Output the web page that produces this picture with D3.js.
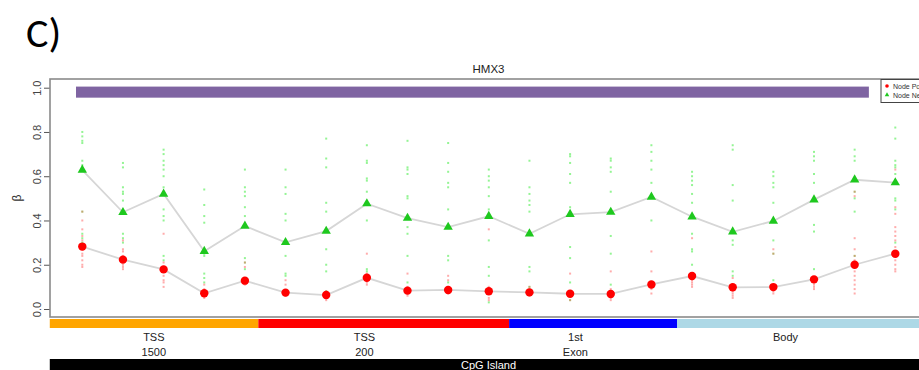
<!DOCTYPE html>
<html>
<head>
<meta charset="utf-8">
<script src="https://cdn.jsdelivr.net/npm/d3@7"></script>
<style>
  body { margin: 0; background: #fff; }
  svg { display: block; font-family: "Liberation Sans", Arial, Helvetica, sans-serif; }
</style>
</head>
<body>
<svg id="chart" width="919" height="370"></svg>
<script>
// ---- data ---------------------------------------------------------------
const panelLabel = "C)";
const gene = "HMX3";
const yLabel = "β";
const yTicks = [0, 0.2, 0.4, 0.6, 0.8, 1.0];
const legendLabels = ["Node Positive", "Node Negative"];

// probe index 1..21 along the gene
const probes = d3.range(1, 22);

// mean beta per probe
const positiveMean = [0.282, 0.223, 0.179, 0.071, 0.128, 0.074, 0.063, 0.141, 0.083, 0.086, 0.080,
                      0.075, 0.069, 0.068, 0.111, 0.149, 0.098, 0.099, 0.134, 0.200, 0.250];
const negativeMean = [0.628, 0.437, 0.520, 0.261, 0.375, 0.301, 0.352, 0.476, 0.411, 0.370, 0.419,
                      0.340, 0.428, 0.438, 0.506, 0.417, 0.349, 0.398, 0.494, 0.584, 0.571];

// individual sample betas per probe
const positiveSamples = [
  [0.44, 0.40, 0.36, 0.33, 0.31, 0.27, 0.25, 0.24, 0.22, 0.20, 0.19],
  [0.31, 0.27, 0.26, 0.24, 0.22, 0.20, 0.19, 0.18],
  [0.34, 0.21, 0.19, 0.17, 0.15, 0.13, 0.12, 0.10],
  [0.11, 0.09, 0.08, 0.06, 0.05],
  [0.21, 0.19, 0.14, 0.12, 0.11],
  [0.13, 0.11, 0.08, 0.06],
  [0.08, 0.07, 0.05, 0.04],
  [0.25, 0.16, 0.14, 0.12, 0.11],
  [0.16, 0.10, 0.09, 0.07, 0.06],
  [0.15, 0.13, 0.10, 0.09, 0.07],
  [0.36, 0.10, 0.08, 0.05, 0.04],
  [0.10, 0.09, 0.07, 0.06],
  [0.16, 0.08, 0.06, 0.04],
  [0.17, 0.09, 0.07, 0.05, 0.04],
  [0.26, 0.17, 0.10, 0.09, 0.07],
  [0.32, 0.16, 0.13, 0.12, 0.11, 0.10],
  [0.14, 0.08, 0.07, 0.06, 0.05],
  [0.27, 0.25, 0.09, 0.08, 0.07],
  [0.12, 0.11, 0.10, 0.09],
  [0.53, 0.51, 0.32, 0.27, 0.24, 0.22, 0.19, 0.17, 0.15, 0.13, 0.11, 0.09, 0.07],
  [0.63, 0.46, 0.43, 0.37, 0.35, 0.33, 0.31, 0.28, 0.26, 0.24, 0.22, 0.20, 0.18, 0.17]
];
const negativeSamples = [
  [0.80, 0.78, 0.76, 0.75, 0.67, 0.65, 0.44, 0.34, 0.32, 0.30],
  [0.66, 0.64, 0.55, 0.53, 0.52, 0.49, 0.34, 0.32, 0.30],
  [0.72, 0.70, 0.67, 0.65, 0.63, 0.60, 0.55, 0.45, 0.42, 0.40, 0.24, 0.22],
  [0.54, 0.47, 0.42, 0.39, 0.25, 0.24, 0.16, 0.14, 0.12],
  [0.63, 0.55, 0.53, 0.51, 0.46, 0.42, 0.23, 0.21, 0.18],
  [0.63, 0.55, 0.52, 0.43, 0.40, 0.24, 0.16, 0.15],
  [0.77, 0.68, 0.64, 0.48, 0.44, 0.27, 0.20, 0.17, 0.08],
  [0.74, 0.67, 0.66, 0.59, 0.58, 0.53, 0.40, 0.18, 0.17],
  [0.76, 0.64, 0.63, 0.61, 0.51, 0.50, 0.37, 0.34, 0.24, 0.12],
  [0.75, 0.66, 0.62, 0.57, 0.55, 0.45, 0.24, 0.22, 0.12],
  [0.63, 0.60, 0.58, 0.55, 0.51, 0.45, 0.31, 0.19, 0.15, 0.03],
  [0.67, 0.55, 0.52, 0.49, 0.47, 0.44, 0.19, 0.17, 0.10],
  [0.70, 0.69, 0.66, 0.61, 0.57, 0.46, 0.28, 0.23, 0.12, 0.04],
  [0.68, 0.67, 0.64, 0.62, 0.53, 0.33, 0.25, 0.11],
  [0.74, 0.71, 0.67, 0.63, 0.57, 0.40],
  [0.62, 0.60, 0.58, 0.56, 0.52, 0.48, 0.34, 0.27, 0.26, 0.20],
  [0.74, 0.72, 0.56, 0.49, 0.31, 0.29, 0.17, 0.15],
  [0.62, 0.60, 0.57, 0.55, 0.48, 0.31, 0.25, 0.13],
  [0.71, 0.69, 0.67, 0.61, 0.57, 0.38, 0.35, 0.18],
  [0.72, 0.69, 0.67, 0.53, 0.50, 0.44, 0.24],
  [0.82, 0.77, 0.67, 0.65, 0.64, 0.61, 0.50, 0.49, 0.45, 0.30]
];

// gene regions, in probe-index units
const regionNames  = [["TSS", "1500"], ["TSS", "200"], ["1st", "Exon"], ["Body"]];
const regionColors = ["#ffa500", "#ff0000", "#0000ff", "#add8e6"];
const regionStart  = [0.2, 5.33, 11.5, 15.63];
const regionEnd    = [5.33, 11.5, 15.63, 21.8];
const regionLabelAt = [2.76, 7.94, 13.13, 18.3];

// CpG island track and the differentially methylated block above the data
const islandLabel = "CpG Island";
const islandSpan = [0.2, 21.8];
const dmrSpan = [0.845, 20.35];
const dmrBeta = [0.955, 1.005];

// ---- layout -------------------------------------------------------------
const svg = d3.select("#chart");
const plot = { left: 50, right: 927, top: 79, bottom: 317 };

const x = d3.scaleLinear().domain([1, 21]).range([82.3, 895.3]);
const y = d3.scaleLinear().domain([0, 1]).range([309, 87.7]);

const posColor = "#ff0000";
const negColor = "#1ec81e";

// panel letter
svg.append("text")
  .attr("x", 26).attr("y", 47)
  .attr("font-family", "Carlito, 'Liberation Sans', sans-serif")
  .attr("font-size", 42).attr("fill", "#000")
  .text(panelLabel);

// title
svg.append("text")
  .attr("x", (plot.left + plot.right) / 2).attr("y", 73)
  .attr("text-anchor", "middle").attr("font-size", 11.5).attr("fill", "#222")
  .text(gene);

// DMR block
svg.append("rect")
  .attr("x", x(dmrSpan[0])).attr("width", x(dmrSpan[1]) - x(dmrSpan[0]))
  .attr("y", y(dmrBeta[1])).attr("height", y(dmrBeta[0]) - y(dmrBeta[1]))
  .attr("fill", "#7f64a2");

// y axis
const yAxis = d3.axisLeft(y).tickValues(yTicks).tickFormat(d3.format(".1f")).tickSize(6);
const ya = svg.append("g").attr("transform", `translate(${plot.left},0)`).call(yAxis);
ya.select(".domain").remove();
ya.selectAll(".tick line").attr("stroke", "#555");
ya.selectAll(".tick text")
  .attr("font-size", 11).attr("fill", "#444")
  .attr("transform", "rotate(-90)")
  .attr("x", 0).attr("dy", 0)
  .attr("y", -10)
  .attr("text-anchor", "middle")
  .attr("font-family", "'Liberation Sans', Arial, sans-serif");
// place rotated labels at tick position
ya.selectAll(".tick text").each(function() {
  d3.select(this).attr("transform", "rotate(-90)").attr("x", 0).attr("y", -9);
});

svg.append("text")
  .attr("transform", `translate(21,${(plot.top + plot.bottom) / 2 + 0}) rotate(-90)`)
  .attr("text-anchor", "middle").attr("font-size", 12).attr("fill", "#333")
  .text(yLabel);

// connecting lines through the means
const line = d3.line().x((d, i) => x(probes[i])).y(d => y(d));
[positiveMean, negativeMean].forEach(series => {
  svg.append("path").datum(series)
    .attr("d", line).attr("fill", "none")
    .attr("stroke", "#d6d6d6").attr("stroke-width", 1.8);
});

// individual samples
function drawSamples(sets, color) {
  sets.forEach((vals, i) => {
    svg.append("g").selectAll("rect").data(vals).join("rect")
      .attr("x", x(probes[i]) - 1).attr("y", d => y(d) - 1)
      .attr("width", 2).attr("height", 2)
      .attr("fill", color);
  });
}
drawSamples(negativeSamples, "rgba(60,235,60,0.55)");
drawSamples(positiveSamples, "rgba(255,70,70,0.45)");

// means
svg.append("g").selectAll("circle").data(positiveMean).join("circle")
  .attr("cx", (d, i) => x(probes[i])).attr("cy", d => y(d))
  .attr("r", 4.2).attr("fill", posColor);

const tri = d3.symbol().type(d3.symbolTriangle).size(38);
svg.append("g").selectAll("path").data(negativeMean).join("path")
  .attr("transform", (d, i) => `translate(${x(probes[i])},${y(d)})`)
  .attr("d", tri).attr("fill", negColor);

// plot frame
svg.append("rect")
  .attr("x", plot.left).attr("y", plot.top)
  .attr("width", plot.right - plot.left).attr("height", plot.bottom - plot.top)
  .attr("fill", "none").attr("stroke", "#8a8a8a").attr("stroke-width", 1.6);

// legend
const lg = svg.append("g");
lg.append("rect").attr("x", 881).attr("y", 79.5).attr("width", 60).attr("height", 23)
  .attr("fill", "#fff").attr("stroke", "#444").attr("stroke-width", 1);
lg.append("circle").attr("cx", 887).attr("cy", 86).attr("r", 1.8).attr("fill", posColor);
lg.append("path").attr("transform", "translate(887,95)")
  .attr("d", d3.symbol().type(d3.symbolTriangle).size(9)).attr("fill", negColor);
legendLabels.forEach((t, i) => {
  lg.append("text").attr("x", 893).attr("y", 88.5 + i * 9)
    .attr("font-size", 7).attr("fill", "#333").text(t);
});

// region track
const regions = regionNames.map((n, i) => ({
  name: n, color: regionColors[i], start: regionStart[i], end: regionEnd[i], at: regionLabelAt[i]
}));
svg.append("g").selectAll("rect").data(regions).join("rect")
  .attr("x", d => x(d.start)).attr("width", d => x(d.end) - x(d.start))
  .attr("y", 319).attr("height", 9)
  .attr("fill", d => d.color);

regions.forEach(r => {
  r.name.forEach((w, k) => {
    svg.append("text")
      .attr("x", x(r.at)).attr("y", 341 + k * 14.5)
      .attr("text-anchor", "middle").attr("font-size", 11).attr("fill", "#222")
      .text(w);
  });
});

// CpG island track
svg.append("rect")
  .attr("x", x(islandSpan[0])).attr("width", x(islandSpan[1]) - x(islandSpan[0]))
  .attr("y", 359).attr("height", 14).attr("fill", "#000");
svg.append("text")
  .attr("x", (plot.left + plot.right) / 2).attr("y", 369)
  .attr("text-anchor", "middle").attr("font-size", 11).attr("fill", "#fff")
  .text(islandLabel);
</script>
</body>
</html>
